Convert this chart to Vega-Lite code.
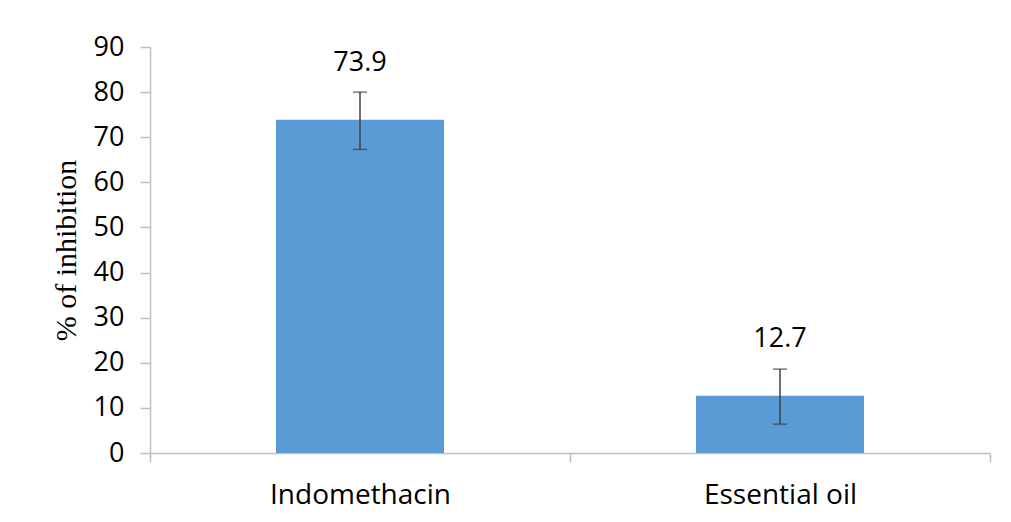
{
  "$schema": "https://vega.github.io/schema/vega-lite/v6.json",
  "width": 840,
  "height": 406,
  "autosize": {"type": "none"},
  "padding": {"left": 150, "top": 47, "right": 21, "bottom": 69},
  "background": "white",
  "data": {
    "values": [
      {"treatment": "Indomethacin", "inhibition": 73.9, "lower": 67.3, "upper": 80.0},
      {"treatment": "Essential oil", "inhibition": 12.7, "lower": 6.4, "upper": 18.6}
    ]
  },
  "encoding": {
    "x": {
      "field": "treatment",
      "type": "nominal",
      "sort": null,
      "scale": {"paddingInner": 0, "paddingOuter": 0},
      "axis": {
        "title": null,
        "labelAngle": 0,
        "labelFont": "Open Sans",
        "labelFontSize": 28,
        "labelLimit": 0,
        "labelColor": "#000000",
        "labelPadding": 19,
        "tickBand": "extent",
        "tickSize": 9,
        "tickColor": "#bfbfbf",
        "domainColor": "#bfbfbf",
        "tickWidth": 1.5,
        "domainWidth": 1.5
      }
    }
  },
  "layer": [
    {
      "mark": {"type": "bar", "color": "#5b9bd5", "width": {"band": 0.4}},
      "encoding": {
        "y": {
          "field": "inhibition",
          "type": "quantitative",
          "title": "% of inhibition",
          "scale": {"domain": [0, 90], "nice": false},
          "axis": {
            "titleFont": "Liberation Serif",
            "titleFontWeight": "normal",
            "titleFontSize": 30,
            "titleColor": "#000000",
            "titlePadding": 12,
            "values": [0, 10, 20, 30, 40, 50, 60, 70, 80, 90],
            "grid": false,
            "labelFont": "Open Sans",
            "labelFontSize": 27,
            "labelColor": "#000000",
            "labelPadding": 16,
            "tickSize": 10,
            "tickColor": "#bfbfbf",
            "domainColor": "#bfbfbf",
            "tickWidth": 1.5,
            "domainWidth": 1.5
          }
        }
      }
    },
    {
      "mark": {
        "type": "errorbar",
        "ticks": {"size": 14, "color": "#404040"},
        "rule": {"color": "#404040"},
        "thickness": 1.5
      },
      "encoding": {
        "y": {"field": "lower", "type": "quantitative", "title": "% of inhibition"},
        "y2": {"field": "upper"}
      }
    },
    {
      "mark": {
        "type": "text",
        "font": "Open Sans",
        "fontSize": 27,
        "color": "#000000",
        "baseline": "alphabetic",
        "dy": -49
      },
      "encoding": {
        "y": {"field": "inhibition", "type": "quantitative", "title": "% of inhibition"},
        "text": {"field": "inhibition", "type": "quantitative", "format": ".1f"}
      }
    }
  ],
  "config": {
    "view": {"stroke": null}
  }
}
